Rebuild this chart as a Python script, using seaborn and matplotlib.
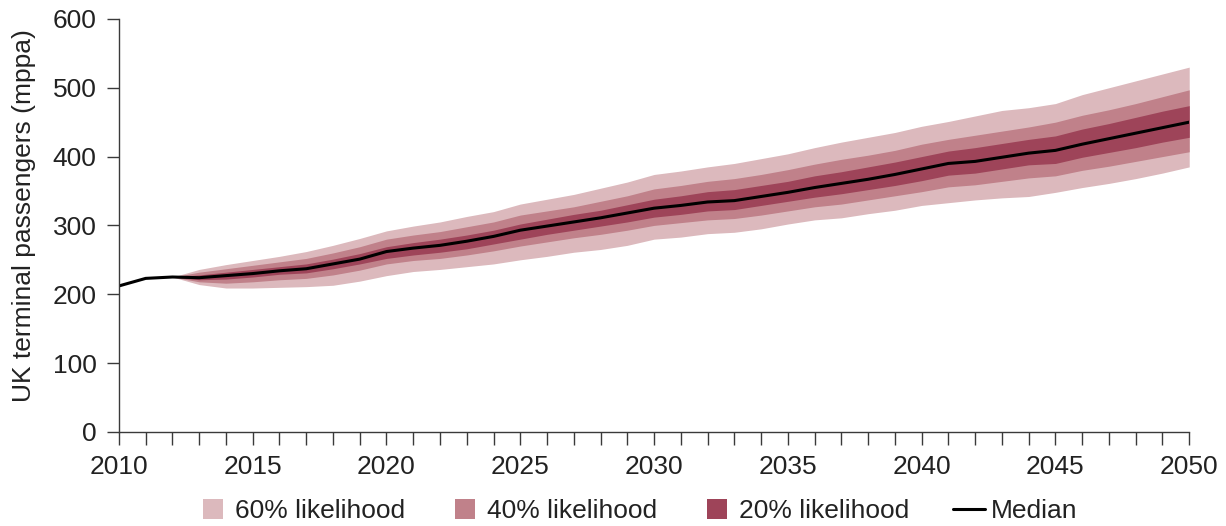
import numpy as np
import pandas as pd
import matplotlib
matplotlib.use("Agg")
import matplotlib.pyplot as plt
from matplotlib.lines import Line2D
from matplotlib.ticker import MultipleLocator
import seaborn as sns

# ---- data ----
median = [212, 223, 225, 224, 227, 230, 234, 237, 244, 251, 262, 267, 271, 277, 284, 293,
          299, 305, 311, 318, 325, 329, 334, 336, 342, 348, 355, 361, 367, 374, 382,
          390, 393, 399, 405, 409, 418, 426, 434, 442, 450]
years = list(range(2010, 2051))
band_years = list(range(2012, 2051))
hi60 = [225, 236, 243, 249, 255, 262, 271, 281, 292, 299, 305, 313, 320, 331, 338, 345, 354,
        363, 374, 379, 385, 390, 397, 404, 413, 421, 428, 435, 444, 451, 459, 467, 471, 477,
        490, 500, 510, 520, 530]
hi40 = [225, 232, 237, 242, 247, 252, 260, 269, 280, 286, 291, 298, 305, 315, 321, 327, 335,
        343, 353, 358, 364, 368, 374, 381, 389, 396, 402, 409, 418, 425, 431, 437, 443, 450,
        460, 468, 477, 487, 497]
hi20 = [225, 228, 232, 236, 240, 244, 251, 259, 269, 275, 280, 286, 293, 302, 309, 316, 322,
        330, 338, 343, 349, 352, 358, 364, 372, 378, 385, 392, 400, 408, 413, 419, 425, 430,
        440, 448, 457, 466, 474]
lo20 = [225, 221, 222, 225, 229, 231, 237, 244, 252, 257, 261, 266, 273, 280, 287, 293, 299,
        305, 312, 316, 321, 323, 329, 335, 341, 346, 352, 358, 365, 373, 376, 382, 388, 390,
        399, 406, 413, 421, 428]
lo40 = [225, 218, 216, 218, 221, 223, 228, 235, 244, 249, 252, 257, 263, 270, 276, 282, 287,
        293, 300, 304, 308, 310, 315, 321, 327, 331, 337, 343, 349, 356, 359, 364, 369, 372,
        380, 386, 393, 400, 407]
lo60 = [225, 214, 209, 209, 210, 211, 213, 219, 227, 233, 236, 240, 244, 250, 255, 261, 265,
        271, 280, 283, 288, 290, 295, 302, 308, 311, 317, 322, 329, 333, 337, 340, 342, 348,
        355, 361, 368, 376, 385]
legend_labels = ["60% likelihood", "40% likelihood", "20% likelihood", "Median"]
y_label = "UK terminal passengers (mppa)"

c60, c40, c20 = "#dcb9bd", "#c0818a", "#9e4459"
txt = "#222222"
fs = 19

sns.set_theme(style="white")
plt.rcParams["font.family"] = ["Liberation Sans", "DejaVu Sans"]

fig = plt.figure(figsize=(12.26, 5.26), dpi=100)
ax = fig.add_axes([0.097, 0.179, 0.873, 0.785])

ax.fill_between(band_years, lo60, hi60, color=c60, linewidth=0)
ax.fill_between(band_years, lo40, hi40, color=c40, linewidth=0)
ax.fill_between(band_years, lo20, hi20, color=c20, linewidth=0)
df = pd.DataFrame({"year": years, "median": median})
sns.lineplot(data=df, x="year", y="median", ax=ax, color="black", linewidth=2.2)

ax.set_xlim(2010, 2050)
ax.set_ylim(0, 600)
ax.xaxis.set_major_locator(MultipleLocator(5))
ax.xaxis.set_minor_locator(MultipleLocator(1))
ax.yaxis.set_major_locator(MultipleLocator(100))
for s in ["top", "right"]:
    ax.spines[s].set_visible(False)
for s in ["left", "bottom"]:
    ax.spines[s].set_color("#3a3a3a")
    ax.spines[s].set_linewidth(1.0)
ax.tick_params(axis="both", which="both", direction="out", length=9, width=1.0,
               color="#3a3a3a", labelsize=fs, labelcolor=txt)
ax.tick_params(axis="x", which="both", bottom=True, pad=8)
ax.tick_params(axis="y", which="both", left=True, pad=7)
ax.set_xlabel("")
ax.set_ylabel(y_label, fontsize=fs, color=txt)
ax.yaxis.set_label_coords(-0.0776, 0.523)
ax.grid(False)

handles = [
    Line2D([], [], linestyle="none", marker="s", markersize=14, markerfacecolor=c60, markeredgewidth=0),
    Line2D([], [], linestyle="none", marker="s", markersize=14, markerfacecolor=c40, markeredgewidth=0),
    Line2D([], [], linestyle="none", marker="s", markersize=14, markerfacecolor=c20, markeredgewidth=0),
    Line2D([], [], color="black", linewidth=2.2),
]
leg = fig.legend(handles, legend_labels, loc="center", bbox_to_anchor=(0.52, 0.0276),
                 ncol=4, frameon=False, fontsize=fs, handlelength=1.2, handletextpad=0.25,
                 columnspacing=1.65, borderpad=0.0)
for t in leg.get_texts():
    t.set_color(txt)

fig.savefig("out.png", dpi=100)
